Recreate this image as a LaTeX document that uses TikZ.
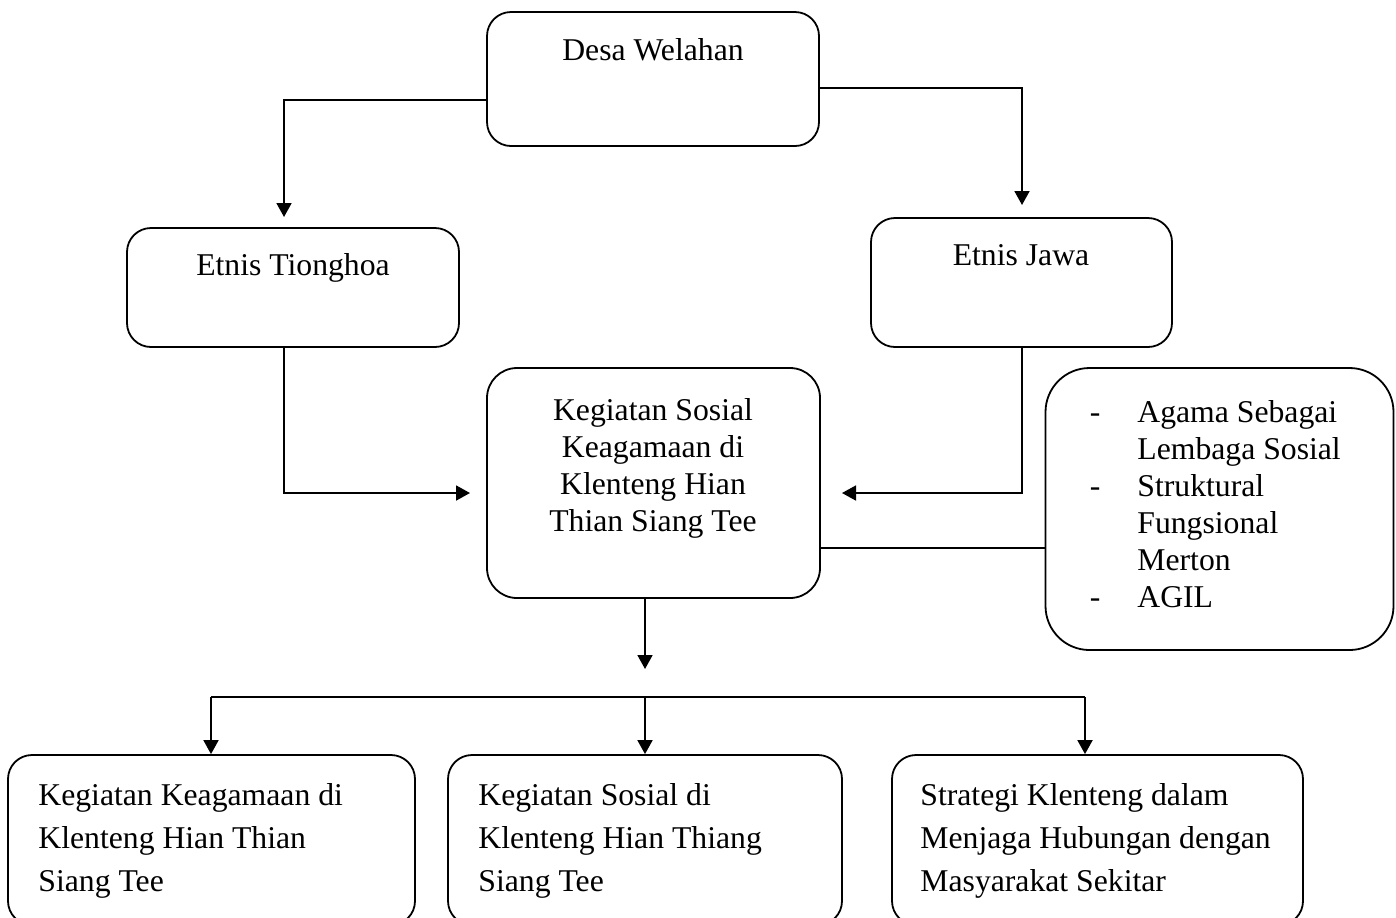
\documentclass[tikz,border=0pt]{standalone}
\usepackage{fontspec}
\setmainfont{Liberation Serif}
\usetikzlibrary{arrows.meta}
\begin{document}
\begin{tikzpicture}[x=0.5pt,y=-0.5pt,
  box/.style={draw, line width=0.9pt, rounded corners=12pt, inner sep=0pt},
  txt/.style={inner sep=0pt, font=\fontsize{15.85}{18.5}\selectfont},
  btxt/.style={inner sep=0pt, align=left, font=\fontsize{15.85}{21.5}\selectfont},
  arr/.style={line width=0.9pt, -{Triangle[length=7pt,width=7.5pt]}},
  ln/.style={line width=0.9pt}]
\useasboundingbox (0,0) rectangle (1396,917);
% boxes
\node[box, minimum width=166pt, minimum height=67pt] (desa) at (653,79) {};
\node[box, minimum width=166pt, minimum height=59.5pt] (tiong) at (293,287.5) {};
\node[box, minimum width=150.5pt, minimum height=64.5pt] (jawa) at (1021.5,282.5) {};
\node[box, rounded corners=15pt, minimum width=166.5pt, minimum height=115pt] (center) at (653.5,483) {};
\node[box, rounded corners=22pt, minimum width=174pt, minimum height=141pt] (right) at (1219.5,509) {};
\node[box, minimum width=203.5pt, minimum height=85pt] (b1) at (211.5,840) {};
\node[box, minimum width=197pt, minimum height=85pt] (b2) at (645,840) {};
\node[box, minimum width=205.5pt, minimum height=85pt] (b3) at (1097.5,840) {};
% texts
\node[txt, anchor=base] (desaT) at (653,60) {Desa Welahan};
\node[txt, anchor=base] (tiongT) at (293,275) {Etnis Tionghoa};
\node[txt, anchor=base] (jawaT) at (1021,265) {Etnis Jawa};
\node[txt, anchor=north, align=center] (centerT) at (653,398)
  {Kegiatan Sosial\\Keagamaan di\\Klenteng Hian\\Thian Siang Tee};
\node[txt, anchor=north west, align=left] (rightT) at (1137,400)
  {\llap{-\hspace{18.5pt}}Agama Sebagai\\Lembaga Sosial\\\llap{-\hspace{18.5pt}}Struktural\\Fungsional\\Merton\\\llap{-\hspace{18.5pt}}AGIL};
\node[btxt, anchor=north west] (b1T) at (38,783)
  {Kegiatan Keagamaan di\\Klenteng Hian Thian\\Siang Tee};
\node[btxt, anchor=north west] (b2T) at (478,783)
  {Kegiatan Sosial di\\Klenteng Hian Thiang\\Siang Tee};
\node[btxt, anchor=north west] (b3T) at (920,783)
  {Strategi Klenteng dalam\\Menjaga Hubungan dengan\\Masyarakat Sekitar};
% connector points
\coordinate (tipT) at (284,217);
\coordinate (tipJ) at (1022,205);
\coordinate (tipC1) at (470,493);
\coordinate (tipC2) at (842,493);
\coordinate (tipD) at (645,669);
\coordinate (busL) at (211,697);
\coordinate (busM) at (645,697);
\coordinate (busR) at (1085,697);
% connectors
\draw[arr] (desa.west |- 0,100) -| (tipT);
\draw[arr] (desa.east |- 0,88) -| (tipJ);
\draw[arr] (tiong.south -| tipT) |- (tipC1);
\draw[arr] (jawa.south -| tipJ) |- (tipC2);
\draw[ln] (center.east |- 0,548) -- (right.west |- 0,548);
\draw[arr] (center.south -| tipD) -- (tipD);
\draw[ln] (busL) -- (busR);
\draw[arr] (busL) -- (b1.north -| busL);
\draw[arr] (busM) -- (b2.north -| busM);
\draw[arr] (busR) -- (b3.north -| busR);
\end{tikzpicture}
\end{document}
